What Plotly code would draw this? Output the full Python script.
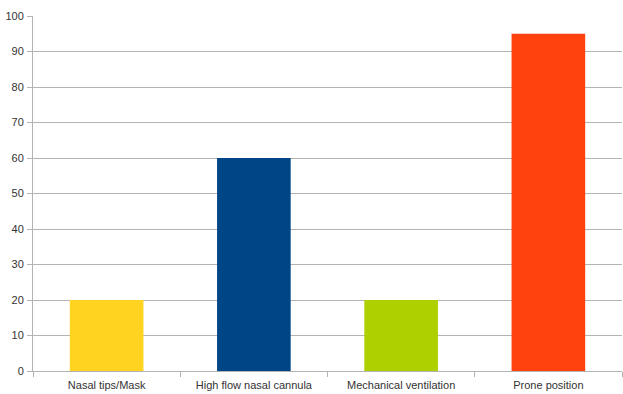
import plotly.graph_objects as go

categories = ["Nasal tips/Mask", "High flow nasal cannula", "Mechanical ventilation", "Prone position"]
values = [20, 60, 20, 95]
colors = ["#FFD320", "#004586", "#AECF00", "#FF420E"]
y_ticks = list(range(0, 101, 10))

fig = go.Figure(go.Bar(x=categories, y=values, marker=dict(color=colors, line=dict(width=0)), width=0.5))

fig.update_layout(
    width=623, height=394,
    margin=dict(l=33, r=1, t=16, b=23),
    paper_bgcolor="white", plot_bgcolor="white",
    font=dict(family="Liberation Sans, Arial, sans-serif", size=11, color="#333333"),
    showlegend=False,
    bargap=0.5,
)
fig.update_xaxes(
    tickson="boundaries", ticks="outside", ticklen=5, tickcolor="#b3b3b3",
    showline=True, linecolor="#b3b3b3", linewidth=1, showgrid=False,
    tickfont=dict(size=11, color="#333333"), ticklabelstandoff=4,
)
fig.update_yaxes(
    range=[0, 100], tickvals=y_ticks, ticks="outside", ticklen=5, tickcolor="#b3b3b3",
    showline=True, linecolor="#b3b3b3", linewidth=1,
    showgrid=True, gridcolor="#b3b3b3", gridwidth=1, zeroline=False,
    tickfont=dict(size=11, color="#333333"), ticklabelstandoff=1,
)

fig.write_html("out.html")
